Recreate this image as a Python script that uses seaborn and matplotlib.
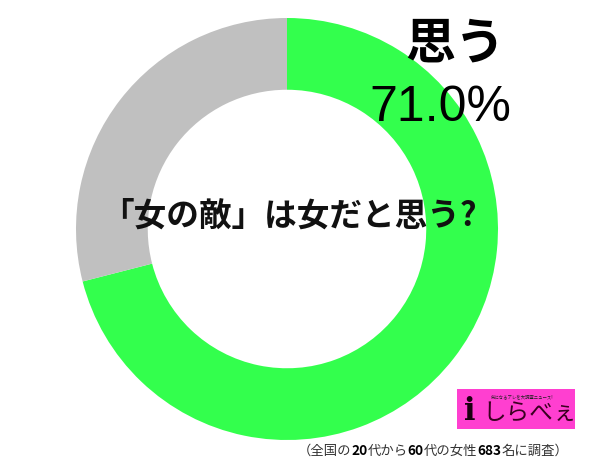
import matplotlib
matplotlib.use("Agg")
import matplotlib.pyplot as plt
import seaborn as sns
import pandas as pd
from matplotlib.patches import Rectangle

sns.set_style("white")
plt.rcParams['font.family'] = ['Noto Sans CJK JP', 'DejaVu Sans']

categories = ["思う", "思わない"]
values = [71.0, 29.0]
colors = ["#33FF4D", "#C0C0C0"]
title_text = "「女の敵」は女だと思う?"
label_text = "思う"
pct_text = "71.0%"
foot_parts = [("（全国の", False), ("20", True), ("代から", False), ("60", True),
              ("代の女性", False), ("683", True), ("名に調査）", False)]

df = pd.DataFrame({"category": categories, "value": values})

fig = plt.figure(figsize=(6.0, 4.63), dpi=100)
ax = fig.add_axes([76/600, 23/463, 422/600, 422/463])
ax.pie(df["value"], colors=colors, startangle=90, counterclock=False,
       radius=1.0, wedgeprops=dict(width=0.34, edgecolor="none"))
ax.set_xlim(-1, 1)
ax.set_ylim(-1, 1)
ax.set_aspect("equal")
ax.axis("off")

# center question
fig.text(289/600, 1 - 216/463, title_text, ha="center", va="center",
         fontsize=23.5, fontweight="bold", color="#111111")

# top right label
fig.text(455/600, 1 - 44/463, label_text, ha="center", va="center",
         fontsize=36, fontweight="bold", color="#000000")
fig.text(440/600, 1 - 108/463, pct_text, ha="center", va="center",
         fontsize=36, color="#000000", family=["Liberation Sans", "DejaVu Sans"])

# logo
logo = Rectangle((457/600, 1 - 429/463), 118/600, 40/463, transform=fig.transFigure,
                 facecolor="#FF3FD0", edgecolor="none")
fig.patches.append(logo)
fig.text(522/600, 1 - 397/463, "気になるアレを大調査ニュース!", ha="center", va="center",
         fontsize=3.2, color="#222222")
fig.text(470/600, 1 - 412/463, "i", ha="center", va="center",
         fontsize=22, fontweight="bold", color="#1a0010", family=["DejaVu Serif"])
fig.text(530/600, 1 - 414/463, "しらべぇ", ha="center", va="center",
         fontsize=17, color="#3a0020")

# footnote with bold numbers
prev = fig.text(298/600, 1 - 451/463, foot_parts[0][0], ha="left", va="center",
                fontsize=9.6, color="#333333")
for txt, bold in foot_parts[1:]:
    prev = ax.annotate(
        txt, xy=(1, 0), xycoords=prev, ha="left", va="bottom",
        fontsize=9.8 if bold else 9.6, fontweight="bold" if bold else "normal",
        color="#000000" if bold else "#333333", annotation_clip=False)

fig.savefig("out.png", dpi=100, facecolor="white")
